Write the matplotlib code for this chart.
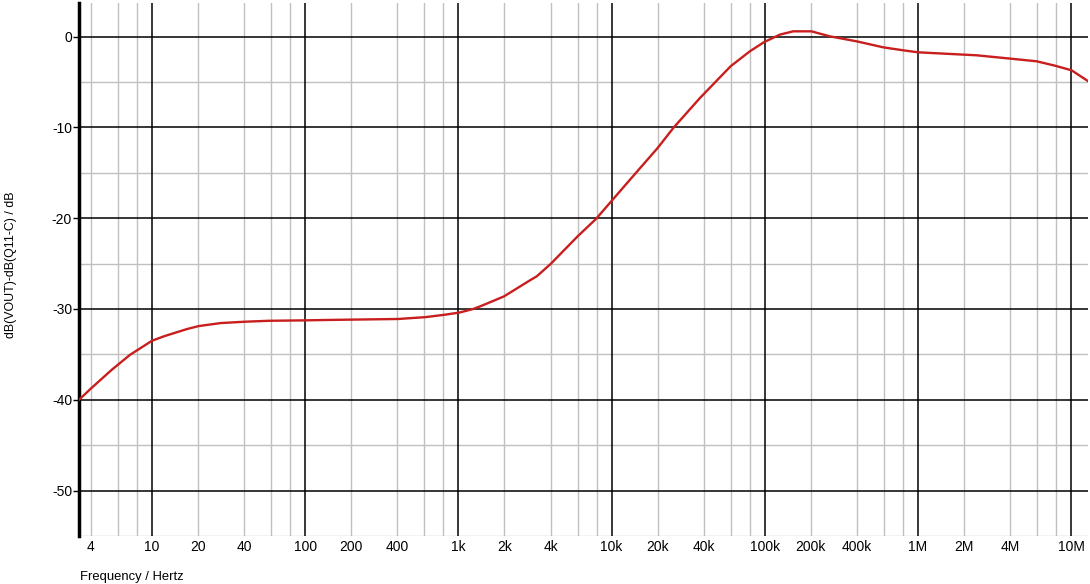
import matplotlib
matplotlib.use("Agg")
import matplotlib.pyplot as plt
from matplotlib.ticker import FixedLocator, FixedFormatter

plt.rcParams['font.family'] = ['Liberation Sans', 'DejaVu Sans']

freq_hz = [3.34, 4.0, 5.46, 7.2, 10.0, 12.0, 14.6, 17.0, 20.2, 28.1, 40.5, 57.5,
           100, 150, 405, 606, 818, 1024, 1250, 1383, 1528, 1993, 2930, 3245,
           4000, 6010, 7910, 9950, 13200, 20000, 25500, 37800, 59900,
           80000, 98800, 125700, 153500, 202000, 266000, 398000, 593000,
           802000, 1.0e6, 1.62e6, 2.42e6, 3.98e6, 5.96e6, 7.84e6, 10.07e6, 12.9e6]
gain_db = [-40.0, -38.75, -36.7, -35.04, -33.5, -33.0, -32.55, -32.2, -31.88,
           -31.55, -31.4, -31.3, -31.25, -31.2, -31.1, -30.9, -30.63, -30.38,
           -30.0, -29.72, -29.42, -28.6, -26.85, -26.41, -25.05, -22.0, -20.09,
           -18.15, -15.76, -12.27, -10.0, -6.76, -3.27, -1.62, -0.62,
           0.22, 0.58, 0.58, 0.03, -0.52, -1.18, -1.51, -1.73, -1.91, -2.06,
           -2.42, -2.72, -3.2, -3.71, -4.9]

x_major = [10, 100, 1e3, 1e4, 1e5, 1e6, 1e7]
x_minor = [m * d for d in [1, 10, 100, 1e3, 1e4, 1e5, 1e6] for m in (2, 4, 6, 8)]
x_label_pos = [4, 10, 20, 40, 100, 200, 400, 1e3, 2e3, 4e3, 1e4, 2e4, 4e4,
               1e5, 2e5, 4e5, 1e6, 2e6, 4e6, 1e7]
x_label_txt = ['4', '10', '20', '40', '100', '200', '400', '1k', '2k', '4k',
               '10k', '20k', '40k', '100k', '200k', '400k', '1M', '2M', '4M', '10M']
y_major = [0, -10, -20, -30, -40, -50]
y_minor = [-5, -15, -25, -35, -45, -55]

fig = plt.figure(figsize=(10.9, 5.84), dpi=100)
ax = fig.add_axes([79/1090, 1-536/584, (1088-79)/1090, (536-3)/584])

for v in x_minor:
    ax.axvline(v, color='#c0c0c0', lw=1.0, zorder=1)
for v in y_minor:
    ax.axhline(v, color='#c0c0c0', lw=1.0, zorder=1)
for v in x_major:
    ax.axvline(v, color='black', lw=1.1, zorder=2)
for v in y_major:
    ax.axhline(v, color='black', lw=1.1, zorder=2)

ax.plot(freq_hz, gain_db, color='#c81e1e', lw=1.7, zorder=3,
        solid_joinstyle='round')

ax.set_xscale('log')
ax.set_xlim(3.34, 12.9e6)
ax.set_ylim(-55, 3.7)

ax.xaxis.set_major_locator(FixedLocator(x_label_pos))
ax.xaxis.set_major_formatter(FixedFormatter(x_label_txt))
ax.xaxis.set_minor_locator(FixedLocator([]))
ax.tick_params(axis='x', which='both', length=0, pad=3, labelsize=10)
ax.set_yticks(y_major)
ax.set_yticklabels([str(v) for v in y_major])
ax.tick_params(axis='y', which='major', length=4, width=1, pad=1, labelsize=10)

for s in ['top', 'right', 'bottom']:
    ax.spines[s].set_visible(False)
ax.spines['left'].set_linewidth(2.5)

fig.text(80/1090, 1-577/584, 'Frequency / Hertz', ha='left', va='center', fontsize=9.4)
fig.text(11/1090, 1-265/584, 'dB(VOUT)-dB(Q11-C) / dB', ha='center', va='center',
         rotation=90, fontsize=8.9)

fig.savefig('out.png', dpi=100)
